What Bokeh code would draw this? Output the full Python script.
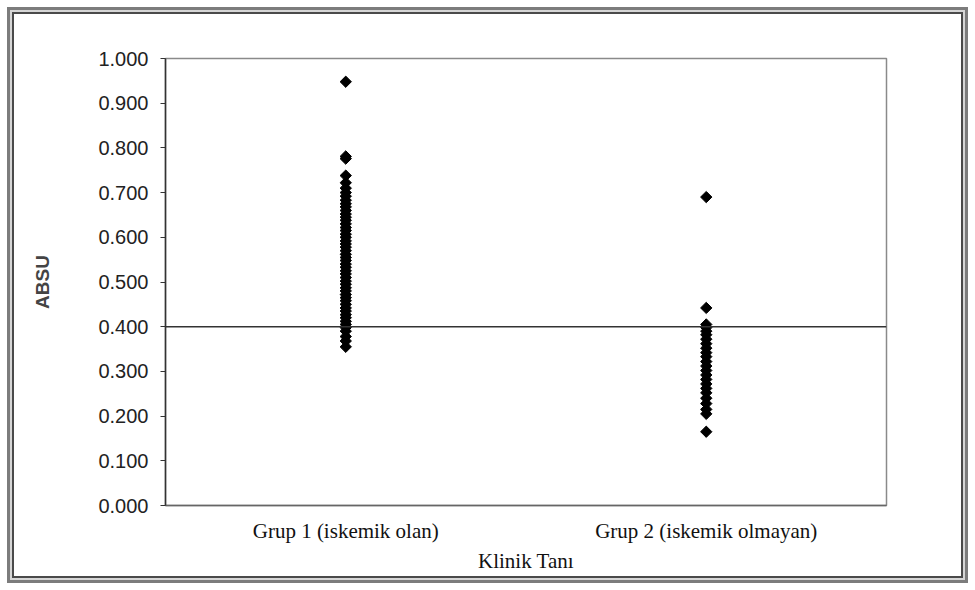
from bokeh.plotting import figure
from bokeh.models import FactorRange, Range1d, FixedTicker, NumeralTickFormatter, Span, ColumnDataSource
from bokeh.embed import file_html
from bokeh.resources import INLINE

categories = ["Grup 1 (iskemik olan)", "Grup 2 (iskemik olmayan)"]
group1_values = [0.948, 0.781, 0.776, 0.738, 0.722, 0.710, 0.700, 0.692, 0.683, 0.675,
                 0.668, 0.660, 0.652, 0.645, 0.638, 0.630, 0.622, 0.615, 0.607, 0.600,
                 0.592, 0.585, 0.578, 0.570, 0.562, 0.555, 0.548, 0.540, 0.533, 0.525,
                 0.518, 0.510, 0.502, 0.495, 0.487, 0.480, 0.472, 0.465, 0.458, 0.450,
                 0.442, 0.435, 0.427, 0.420, 0.412, 0.405, 0.398, 0.390, 0.378, 0.368, 0.355]
group2_values = [0.690, 0.442, 0.405, 0.398, 0.390, 0.382, 0.372, 0.362, 0.352, 0.342,
                 0.333, 0.322, 0.312, 0.302, 0.292, 0.282, 0.272, 0.262, 0.252, 0.240,
                 0.228, 0.215, 0.205, 0.165]
y_ticks = [0.0, 0.1, 0.2, 0.3, 0.4, 0.5, 0.6, 0.7, 0.8, 0.9, 1.0]
threshold = 0.400
y_label = "ABSU"
x_label = "Klinik Tanı"

xs = [categories[0]] * len(group1_values) + [categories[1]] * len(group2_values)
ys = group1_values + group2_values
src = ColumnDataSource(dict(x=xs, y=ys))

p = figure(width=975, height=590, output_backend="svg", toolbar_location=None,
           x_range=FactorRange(factors=categories, range_padding=0),
           y_range=Range1d(0, 1),
           min_border_left=165, min_border_right=89, min_border_top=58, min_border_bottom=85)

p.grid.visible = False
p.outline_line_color = "#8a8a8a"
p.outline_line_width = 1.5
p.background_fill_color = "white"
p.border_fill_alpha = 0
p.styles = {
    "background-color": "white",
    "box-shadow": "inset 0 0 0 7px white, inset 0 0 0 10px #7c7c7c, "
                  "inset 0 0 0 12px #d6d6d6, inset 0 0 0 14px #4a4a4a",
}

p.yaxis.ticker = FixedTicker(ticks=y_ticks)
p.yaxis.formatter = NumeralTickFormatter(format="0.000")
p.yaxis.major_tick_in = 0
p.yaxis.major_tick_out = 5
p.yaxis.minor_tick_line_color = None
p.yaxis.axis_line_color = "#333333"
p.yaxis.axis_line_width = 1.5
p.yaxis.major_tick_line_color = "#333333"
p.yaxis.major_label_text_font = "Liberation Sans"
p.yaxis.major_label_text_font_size = "20px"
p.yaxis.major_label_text_color = "#222222"
p.yaxis.major_label_standoff = 12
p.yaxis.axis_label = y_label
p.yaxis.axis_label_text_font = "Liberation Sans"
p.yaxis.axis_label_text_font_style = "bold"
p.yaxis.axis_label_text_font_size = "19px"
p.yaxis.axis_label_standoff = 42

p.xaxis.major_tick_line_color = None
p.xaxis.minor_tick_line_color = None
p.xaxis.axis_line_color = "#666666"
p.xaxis.axis_line_width = 1.5
p.xaxis.major_label_text_font = "Liberation Serif"
p.xaxis.major_label_text_font_size = "21px"
p.xaxis.major_label_text_color = "#111111"
p.xaxis.major_label_standoff = 7
p.xaxis.axis_label = x_label
p.xaxis.axis_label_text_font = "Liberation Serif"
p.xaxis.axis_label_text_font_style = "normal"
p.xaxis.axis_label_text_font_size = "21px"
p.xaxis.axis_label_text_color = "#111111"
p.xaxis.axis_label_standoff = 3

p.add_layout(Span(location=threshold, dimension="width", line_color="#333333", line_width=1.5))

p.scatter("x", "y", source=src, marker="square", angle=0.7853981634, size=8,
          fill_color="black", line_color="black")

open("out.html", "w").write(file_html(p, INLINE))
